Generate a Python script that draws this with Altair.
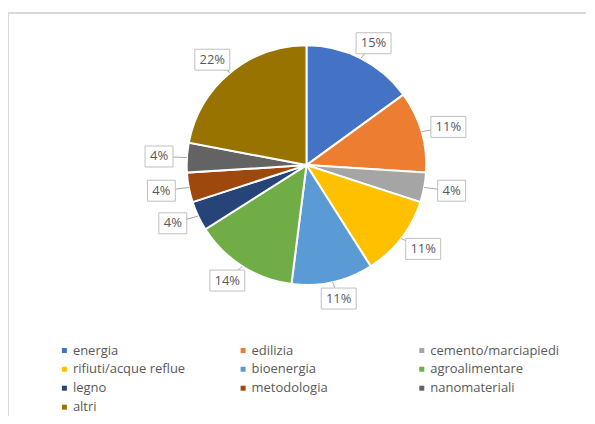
import altair as alt
import pandas as pd

categories = ["energia", "edilizia", "cemento/marciapiedi", "rifiuti/acque reflue",
              "bioenergia", "agroalimentare", "legno", "metodologia",
              "nanomateriali", "altri"]
values = [15, 11, 4, 11, 11, 14, 4, 4, 4, 22]
labels = ["15%", "11%", "4%", "11%", "11%", "14%", "4%", "4%", "4%", "22%"]
colors = ["#4472C4", "#ED7D31", "#A5A5A5", "#FFC000", "#5B9BD5",
          "#70AD47", "#264478", "#9E480E", "#636363", "#997300"]

df = pd.DataFrame({"cat": categories, "value": values, "label": labels,
                   "idx": list(range(len(categories)))})

FONT = "Open Sans"
CX, CY, R = 299, 157, 120
RX, RY = 148, 137

base = alt.Chart(df)

pie = base.mark_arc(outerRadius=R, stroke="white", strokeWidth=2).encode(
    theta=alt.Theta("value:Q", stack=True),
    order=alt.Order("idx:Q"),
    color=alt.Color("cat:N", sort=categories,
                    scale=alt.Scale(domain=categories, range=colors),
                    legend=alt.Legend(title=None, orient="none", direction="horizontal",
                                      columns=3, legendX=50, legendY=336,
                                      symbolType="square", symbolSize=25,
                                      symbolStrokeWidth=0, labelFont=FONT,
                                      labelFontSize=13, labelColor="#595959",
                                      labelOffset=2, columnPadding=34, rowPadding=5,
                                      gridAlign="all", padding=0, labelLimit=300)),
    x=alt.value(CX), y=alt.value(CY),
)

lab = base.transform_window(
    cum="sum(value)", sort=[alt.SortField("idx")]
).transform_joinaggregate(
    total="sum(value)"
).transform_calculate(
    ang=f"2*PI*(datum.cum - datum.value/2)/datum.total"
).transform_calculate(
    lx=f"{CX} + {RX}*sin(datum.ang)",
    ly=f"{CY} - {RY}*cos(datum.ang)",
    ex=f"{CX} + {R}*sin(datum.ang)",
    ey=f"{CY} - {R}*cos(datum.ang)",
    hw="7 + 3.5*length(datum.label)",
).transform_calculate(
    bx1="datum.lx - datum.hw", bx2="datum.lx + datum.hw",
    by1="datum.ly - 10.5", by2="datum.ly + 10.5",
)

leader = lab.mark_rule(color="#a6a6a6", strokeWidth=1).encode(
    x=alt.X("ex:Q", scale=None), y=alt.Y("ey:Q", scale=None),
    x2="lx:Q", y2="ly:Q",
)

boxes = lab.mark_rect(fill="white", stroke="#bfbfbf", strokeWidth=1).encode(
    x=alt.X("bx1:Q", scale=None), x2="bx2:Q",
    y=alt.Y("by1:Q", scale=None), y2="by2:Q",
)

texts = lab.mark_text(font=FONT, fontSize=13, color="#595959",
                      align="center", baseline="middle").encode(
    x=alt.X("lx:Q", scale=None), y=alt.Y("ly:Q", scale=None), text="label:N",
)

frame_top = alt.Chart(df).mark_rule(color="#d9d9d9", strokeWidth=1).encode(
    x=alt.value(0.5), x2=alt.value(579), y=alt.value(4.5)
)
frame_left = alt.Chart(df).mark_rule(color="#d9d9d9", strokeWidth=1).encode(
    x=alt.value(0.5), y=alt.value(4.5), y2=alt.value(408)
)

chart = alt.layer(frame_top, frame_left, pie, leader, boxes, texts).properties(
    width=579, height=408, padding=0
).configure_view(stroke=None)

chart.save("out.html", embed_options={"renderer": "svg", "actions": False})
